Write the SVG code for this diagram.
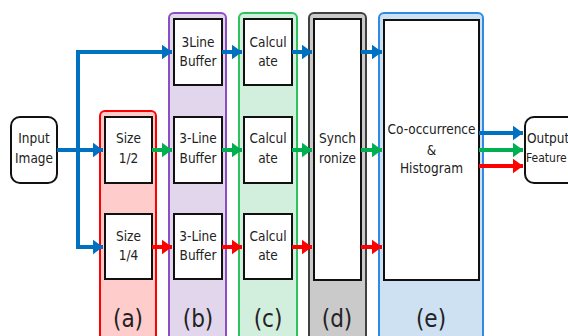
<svg xmlns="http://www.w3.org/2000/svg" width="568" height="336" viewBox="0 0 568 336">
<defs>
<style>
.t{font-family:"DejaVu Sans Condensed","Liberation Sans",sans-serif;font-size:13.5px;text-anchor:middle;fill:#222}
.lb{font-family:"DejaVu Sans Condensed","Liberation Sans",sans-serif;font-size:24px;text-anchor:middle;fill:#222}
.box{fill:#fff;stroke:#111;stroke-width:2}
.b{stroke:#0070c0;stroke-width:4;fill:none}
.g{stroke:#00b050;stroke-width:4;fill:none}
.r{stroke:#ff0000;stroke-width:4;fill:none}
</style>
<marker id="mb" markerWidth="4" markerHeight="4" refX="2.6" refY="2" orient="auto" markerUnits="strokeWidth"><path d="M0,0.1 L2.6,2 L0,3.9 Z" fill="#0070c0"/></marker>
<marker id="mg" markerWidth="4" markerHeight="4" refX="2.6" refY="2" orient="auto" markerUnits="strokeWidth"><path d="M0,0.1 L2.6,2 L0,3.9 Z" fill="#00b050"/></marker>
<marker id="mr" markerWidth="4" markerHeight="4" refX="2.6" refY="2" orient="auto" markerUnits="strokeWidth"><path d="M0,0.1 L2.6,2 L0,3.9 Z" fill="#ff0000"/></marker>
</defs>
<rect width="568" height="336" fill="#fff"/>

<g id="panel-a">
<rect x="100" y="111" width="56" height="235" rx="5" fill="#ffcccc" stroke="#ff0000" stroke-width="2"/>
<text class="lb" x="128" y="327">(a)</text>
</g>
<g id="panel-b">
<rect x="169" y="13" width="57" height="333" rx="5" fill="#e1d6ec" stroke="#8a4fc0" stroke-width="2"/>
<text class="lb" x="198" y="327">(b)</text>
</g>
<g id="panel-c">
<rect x="239" y="13" width="58" height="333" rx="5" fill="#d2eedd" stroke="#2ec25f" stroke-width="2"/>
<text class="lb" x="268" y="327">(c)</text>
</g>
<g id="panel-d">
<rect x="309" y="13" width="57" height="333" rx="5" fill="#cacaca" stroke="#404040" stroke-width="2"/>
<text class="lb" x="337" y="327">(d)</text>
</g>
<g id="panel-e">
<rect x="379" y="13" width="104" height="333" rx="5" fill="#cde1f3" stroke="#2e8ae6" stroke-width="2"/>
<text class="lb" x="431" y="327">(e)</text>
</g>

<g id="input">
<rect x="11" y="117" width="46" height="66" rx="9" fill="#fff" stroke="#111" stroke-width="2"/>
<text class="t" x="34" y="143">Input</text>
<text class="t" x="34" y="163">Image</text>
</g>
<g id="size12">
<rect class="box" x="105" y="117" width="47" height="66"/>
<text class="t" x="128.5" y="143">Size</text>
<text class="t" x="128.5" y="163">1/2</text>
</g>
<g id="size14">
<rect class="box" x="105" y="214" width="47" height="65"/>
<text class="t" x="128.5" y="241">Size</text>
<text class="t" x="128.5" y="260">1/4</text>
</g>
<g id="buf1">
<rect class="box" x="174" y="19" width="48" height="66"/>
<text class="t" x="198" y="47">3Line</text>
<text class="t" x="198" y="66">Buffer</text>
</g>
<g id="buf2">
<rect class="box" x="174" y="117" width="48" height="66"/>
<text class="t" x="198" y="143">3-Line</text>
<text class="t" x="198" y="163">Buffer</text>
</g>
<g id="buf3">
<rect class="box" x="174" y="214" width="48" height="65"/>
<text class="t" x="198" y="241">3-Line</text>
<text class="t" x="198" y="260">Buffer</text>
</g>
<g id="calc1">
<rect class="box" x="244" y="19" width="48" height="66"/>
<text class="t" x="268" y="47">Calcul</text>
<text class="t" x="268" y="66">ate</text>
</g>
<g id="calc2">
<rect class="box" x="244" y="117" width="48" height="66"/>
<text class="t" x="268" y="143">Calcul</text>
<text class="t" x="268" y="163">ate</text>
</g>
<g id="calc3">
<rect class="box" x="244" y="214" width="48" height="65"/>
<text class="t" x="268" y="241">Calcul</text>
<text class="t" x="268" y="260">ate</text>
</g>
<g id="sync">
<rect class="box" x="314" y="19" width="47" height="261"/>
<text class="t" x="337.5" y="143">Synch</text>
<text class="t" x="337.5" y="163">ronize</text>
</g>
<g id="cooc">
<rect class="box" x="384" y="20" width="95" height="260"/>
<text class="t" x="431.5" y="134">Co-occurrence</text>
<text class="t" x="431.5" y="155">&amp;</text>
<text class="t" x="431.5" y="173">Histogram</text>
</g>
<g id="output">
<rect x="525" y="117" width="60" height="66" rx="9" fill="#fff" stroke="#111" stroke-width="2"/>
<text class="t" x="527" y="143" style="text-anchor:start">Output</text>
<text class="t" x="526" y="162" style="text-anchor:start;font-size:12px">Feature</text>
</g>

<g id="connectors">
<path class="b" d="M57,150 H103" marker-end="url(#mb)"/>
<path class="b" d="M78,150 V52 H172" marker-end="url(#mb)"/>
<path class="b" d="M78,150 V247 H103" marker-end="url(#mb)"/>
<path class="b" d="M222,52 H242" marker-end="url(#mb)"/>
<path class="b" d="M292,52 H312" marker-end="url(#mb)"/>
<path class="b" d="M361,52 H382" marker-end="url(#mb)"/>
<path class="g" d="M152,150 H172" marker-end="url(#mg)"/>
<path class="g" d="M222,150 H242" marker-end="url(#mg)"/>
<path class="g" d="M292,150 H312" marker-end="url(#mg)"/>
<path class="g" d="M361,150 H382" marker-end="url(#mg)"/>
<path class="r" d="M152,247 H172" marker-end="url(#mr)"/>
<path class="r" d="M222,247 H242" marker-end="url(#mr)"/>
<path class="r" d="M292,247 H312" marker-end="url(#mr)"/>
<path class="r" d="M361,247 H382" marker-end="url(#mr)"/>
<path class="b" d="M479,133 H523" marker-end="url(#mb)"/>
<path class="g" d="M479,150 H523" marker-end="url(#mg)"/>
<path class="r" d="M479,166 H523" marker-end="url(#mr)"/>
</g>
</svg>
